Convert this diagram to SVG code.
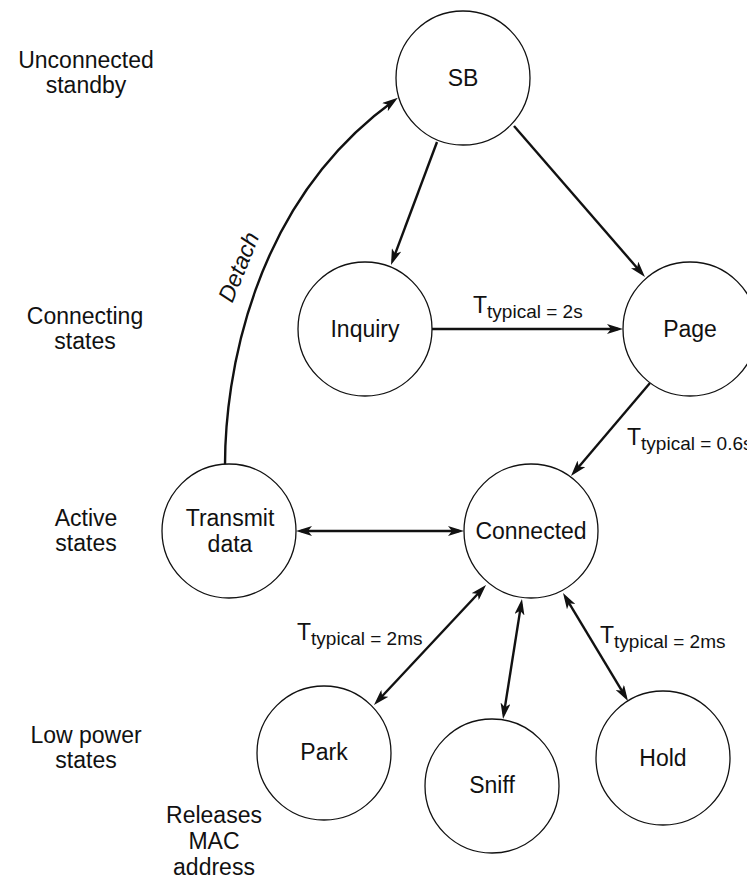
<svg xmlns="http://www.w3.org/2000/svg" width="747" height="880" viewBox="0 0 747 880">
<style>
text{font-family:"Liberation Sans",Arial,sans-serif;font-size:23px;fill:#111}
.lbl{text-anchor:middle}
.node circle{fill:#fff;stroke:#111;stroke-width:1.3}
.node text{text-anchor:middle}
.edge{fill:none;stroke:#111;stroke-width:2.4}
.sub{font-size:19px}
</style>
<defs>
<marker id="ah" viewBox="0 0 16 10" refX="11" refY="5" markerWidth="16" markerHeight="10" markerUnits="userSpaceOnUse" orient="auto-start-reverse">
<path d="M0,0 L16,5 L0,10 L4,5 Z" fill="#111"/>
</marker>
</defs>
<rect width="747" height="880" fill="#fff"/>
<g id="side-labels">
<text class="lbl" x="86" y="68">Unconnected</text>
<text class="lbl" x="86" y="93">standby</text>
<text class="lbl" x="85" y="324">Connecting</text>
<text class="lbl" x="85" y="349">states</text>
<text class="lbl" x="86" y="526">Active</text>
<text class="lbl" x="86" y="551">states</text>
<text class="lbl" x="86" y="743">Low power</text>
<text class="lbl" x="86" y="768">states</text>
<text class="lbl" x="214" y="823">Releases</text>
<text class="lbl" x="214" y="849">MAC</text>
<text class="lbl" x="214" y="875">address</text>
</g>
<g id="connectors">
<path class="edge" d="M225,465 C225,380 250,205 393.8,100.7" marker-end="url(#ah)"/>
<line class="edge" x1="437" y1="142" x2="392.75" y2="260.3" marker-end="url(#ah)"/>
<line class="edge" x1="514" y1="126" x2="641.7" y2="273.2" marker-end="url(#ah)"/>
<line class="edge" x1="432" y1="329" x2="618" y2="329" marker-end="url(#ah)"/>
<line class="edge" x1="650" y1="383" x2="574.2" y2="472.2" marker-end="url(#ah)"/>
<line class="edge" x1="301" y1="531" x2="459" y2="531" marker-start="url(#ah)" marker-end="url(#ah)"/>
<line class="edge" x1="377.4" y1="701.3" x2="482.6" y2="588.7" marker-start="url(#ah)" marker-end="url(#ah)"/>
<line class="edge" x1="503.8" y1="714.1" x2="521.2" y2="603.9" marker-start="url(#ah)" marker-end="url(#ah)"/>
<line class="edge" x1="565.6" y1="597.3" x2="625.4" y2="696.7" marker-start="url(#ah)" marker-end="url(#ah)"/>
<text transform="translate(246,270) rotate(-68)" text-anchor="middle" font-style="italic">Detach</text>
<text x="473" y="313">T<tspan class="sub" dy="5">typical = 2s</tspan></text>
<text x="627" y="445">T<tspan class="sub" dy="5">typical = 0.6s</tspan></text>
<text x="297" y="640">T<tspan class="sub" dy="5">typical = 2ms</tspan></text>
<text x="600" y="643">T<tspan class="sub" dy="5">typical = 2ms</tspan></text>
</g>
<g id="node-sb" class="node"><circle cx="463" cy="78" r="67"/><text x="463" y="86">SB</text></g>
<g id="node-inquiry" class="node"><circle cx="365" cy="329" r="67"/><text x="365" y="337">Inquiry</text></g>
<g id="node-page" class="node"><circle cx="690" cy="329" r="67"/><text x="690" y="337">Page</text></g>
<g id="node-transmit" class="node"><circle cx="229" cy="531" r="67"/><text x="230" y="526">Transmit</text><text x="230" y="552">data</text></g>
<g id="node-connected" class="node"><circle cx="531" cy="531" r="67"/><text x="531" y="539">Connected</text></g>
<g id="node-park" class="node"><circle cx="324" cy="753" r="67"/><text x="324" y="760">Park</text></g>
<g id="node-sniff" class="node"><circle cx="492" cy="786" r="67"/><text x="492" y="793">Sniff</text></g>
<g id="node-hold" class="node"><circle cx="663" cy="758" r="67"/><text x="663" y="766">Hold</text></g>
</svg>
